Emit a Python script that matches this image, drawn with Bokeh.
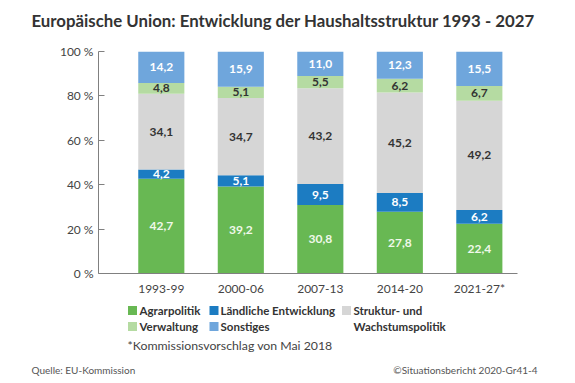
from bokeh.plotting import figure
from bokeh.layouts import column
from bokeh.models import ColumnDataSource, Range1d, FixedTicker, PrintfTickFormatter
from bokeh.core.properties import value
from bokeh.embed import file_html
from bokeh.resources import INLINE

# ---- data ----
periods = ["1993-99", "2000-06", "2007-13", "2014-20", "2021-27*"]
series_names = ["Agrarpolitik", "Ländliche Entwicklung", "Struktur- und Wachstumspolitik",
                "Verwaltung", "Sonstiges"]
agrar = [42.7, 39.2, 30.8, 27.8, 22.4]
laendlich = [4.2, 5.1, 9.5, 8.5, 6.2]
struktur = [34.1, 34.7, 43.2, 45.2, 49.2]
verwaltung = [4.8, 5.1, 5.5, 6.2, 6.7]
sonstiges = [14.2, 15.9, 11.0, 12.3, 15.5]
y_ticks = [0, 20, 40, 60, 80, 100]
title_text = "Europäische Union: Entwicklung der Haushaltsstruktur 1993 - 2027"
footnote = "*Kommissionsvorschlag von Mai 2018"
source_text = "Quelle: EU-Kommission"
credit_text = "©Situationsbericht 2020-Gr41-4"

colors = ["#68b853", "#1c7cc2", "#d6d6d6", "#b5dba2", "#6fa6dc"]
label_colors = ["#f0f8ea", "#ffffff", "#333333", "#333333", "#ffffff"]

W = 575
TOP_H, MAIN_H, BOT_H = 41, 257, 85
FL, FR = 98, 517
X0, X1 = -0.79, 4.48


def no_align(f):
    if "frame_align" in f.properties():
        f.frame_align = False
    return f


def blank(h, y_top):
    f = figure(width=W, height=h, output_backend="svg", toolbar_location=None,
               x_range=Range1d(0, W), y_range=Range1d(y_top + h, y_top),
               min_border=0, x_axis_location=None, y_axis_location=None)
    f.outline_line_color = None
    f.grid.visible = False
    f.background_fill_color = "white"
    f.border_fill_color = "white"
    return no_align(f)


# ---- title strip ----
pt = blank(TOP_H, 0)
pt.text(x=[31], y=[20], text=[title_text], text_font=value("Lato"),
        text_font_size="16.8px", text_font_style="bold", text_color="#333333",
        text_align="left", text_baseline="middle")

# ---- main chart ----
p = figure(width=W, height=MAIN_H, output_backend="svg", toolbar_location=None,
           x_range=Range1d(X0, X1), y_range=Range1d(0, 100),
           min_border_left=FL, min_border_right=W - FR,
           min_border_top=10, min_border_bottom=25)
no_align(p)
p.outline_line_color = None
p.grid.visible = False
p.background_fill_color = "white"
p.border_fill_color = "white"

xs = list(range(len(periods)))
series = [agrar, laendlich, struktur, verwaltung, sonstiges]
bottom = [0.0] * len(periods)
tx, ty, tt, tc = [], [], [], []
for s, col, lc in zip(series, colors, label_colors):
    top = [b + v for b, v in zip(bottom, s)]
    src = ColumnDataSource(dict(x=xs, bottom=bottom, top=top))
    p.vbar(x="x", bottom="bottom", top="top", width=0.58, source=src,
           fill_color=col, line_color=None)
    for i, v in enumerate(s):
        tx.append(xs[i])
        ty.append((bottom[i] + top[i]) / 2)
        tt.append(f"{v:.1f}".replace(".", ","))
        tc.append(lc)
    bottom = top

tsrc = ColumnDataSource(dict(x=tx, y=ty, t=tt, c=tc))
p.text(x="x", y="y", text="t", text_color="c", source=tsrc,
       text_align="center", text_baseline="middle",
       text_font=value("Lato"), text_font_size="12px", text_font_style="bold")

p.xaxis.ticker = FixedTicker(ticks=xs)
p.xaxis.major_label_overrides = {i: lab for i, lab in enumerate(periods)}
p.xaxis.major_tick_in = 0
p.xaxis.major_tick_out = 0
p.xaxis.minor_tick_line_color = None
p.xaxis.axis_line_color = "#808080"
p.xaxis.major_label_standoff = 7
p.xaxis.major_label_text_font = "Lato"
p.xaxis.major_label_text_font_size = "12px"
p.xaxis.major_label_text_color = "#444444"

p.yaxis.ticker = FixedTicker(ticks=y_ticks)
p.yaxis.formatter = PrintfTickFormatter(format="%d %%")
p.yaxis.major_tick_in = 6
p.yaxis.major_tick_out = 0
p.yaxis.major_tick_line_color = "#808080"
p.yaxis.minor_tick_line_color = None
p.yaxis.axis_line_color = "#808080"
p.yaxis.major_label_standoff = 5
p.yaxis.major_label_text_font = "Lato"
p.yaxis.major_label_text_font_size = "12px"
p.yaxis.major_label_text_color = "#444444"

# ---- legend + notes strip ----
y0 = TOP_H + MAIN_H
pb = blank(BOT_H, y0)
sq_x = [132, 213.5, 346, 132, 213.5]
sq_y = [310, 310, 310, 326, 326]
pb.rect(x=sq_x, y=sq_y, width=9, height=9, fill_color=colors, line_color=None)
leg_text = ["Agrarpolitik", "Ländliche Entwicklung", "Struktur- und",
            "Verwaltung", "Sonstiges", "Wachstumspolitik"]
leg_x = [139, 220, 353, 139, 220, 353]
leg_y = [310, 310, 310, 326, 326, 326]
pb.text(x=leg_x, y=leg_y, text=leg_text, text_font=value("Lato"),
        text_font_size="11.5px", text_font_style="bold", text_color="#333333",
        text_align="left", text_baseline="middle")
pb.text(x=[127], y=[345], text=[footnote], text_font=value("Lato"),
        text_font_size="12.3px", text_color="#444444",
        text_align="left", text_baseline="middle")
pb.text(x=[31], y=[369], text=[source_text], text_font=value("Lato"),
        text_font_size="10px", text_color="#555555",
        text_align="left", text_baseline="middle")
pb.text(x=[537], y=[369], text=[credit_text], text_font=value("Lato"),
        text_font_size="10px", text_color="#555555",
        text_align="right", text_baseline="middle")

layout = column(pt, p, pb, spacing=0)
open("out.html", "w").write(file_html(layout, INLINE))
